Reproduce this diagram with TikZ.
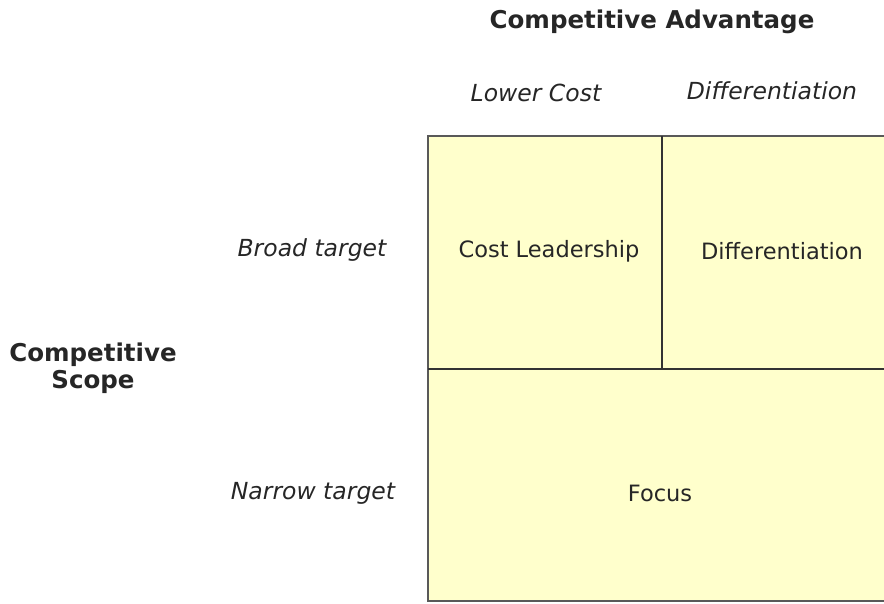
\documentclass[tikz,border=0pt]{standalone}
\usepackage{fontspec}
\setmainfont{DejaVu Sans}
\begin{document}
\begin{tikzpicture}[x=1pt,y=-1pt,
  lbl/.style={font=\fontsize{23.5}{27}\selectfont\itshape, text=black!85, inner sep=0pt},
  hdr/.style={font=\fontsize{24.5}{27}\selectfont\bfseries, text=black!85, inner sep=0pt, align=center},
  cell/.style={font=\fontsize{22.5}{27}\selectfont, text=black!85, inner sep=0pt},
  box/.style={draw=black!65, line width=1.8pt, fill={rgb,255:red,255;green,255;blue,204}}]
\useasboundingbox (0,0) rectangle (884,603);
\fill[box, draw=none] (428,136) rectangle (884,601);
\coordinate (tl) at (428,136);
\coordinate (tr) at (884,136);
\coordinate (bl) at (428,601);
\coordinate (br) at (884,601);
\coordinate (ml) at (428,369);
\coordinate (mr) at (884,369);
\coordinate (vt) at (662,136);
\coordinate (vb) at (662,369);
\draw[draw=black!65, line width=1.8pt] (tr) -- (tl) -- (bl) -- (br);
\draw[draw=black!80, line width=1.5pt] (ml) -- (mr);
\draw[draw=black!80, line width=1.5pt] (vt) -- (vb);
\node[hdr] (ca) at (652,22) {Competitive Advantage};
\node[lbl] (lc) at (536,93) {Lower Cost};
\node[lbl] (df) at (772,91) {Differentiation};
\node[lbl] (bt) at (312,250) {Broad target};
\node[lbl] (nt) at (313,493) {Narrow target};
\node[hdr] (cs) at (93,368) {Competitive\\Scope};
\node[cell] (cl) at (549,251) {Cost Leadership};
\node[cell] (dc) at (782,251) {Differentiation};
\node[cell] (fo) at (660,493) {Focus};
\end{tikzpicture}
\end{document}
